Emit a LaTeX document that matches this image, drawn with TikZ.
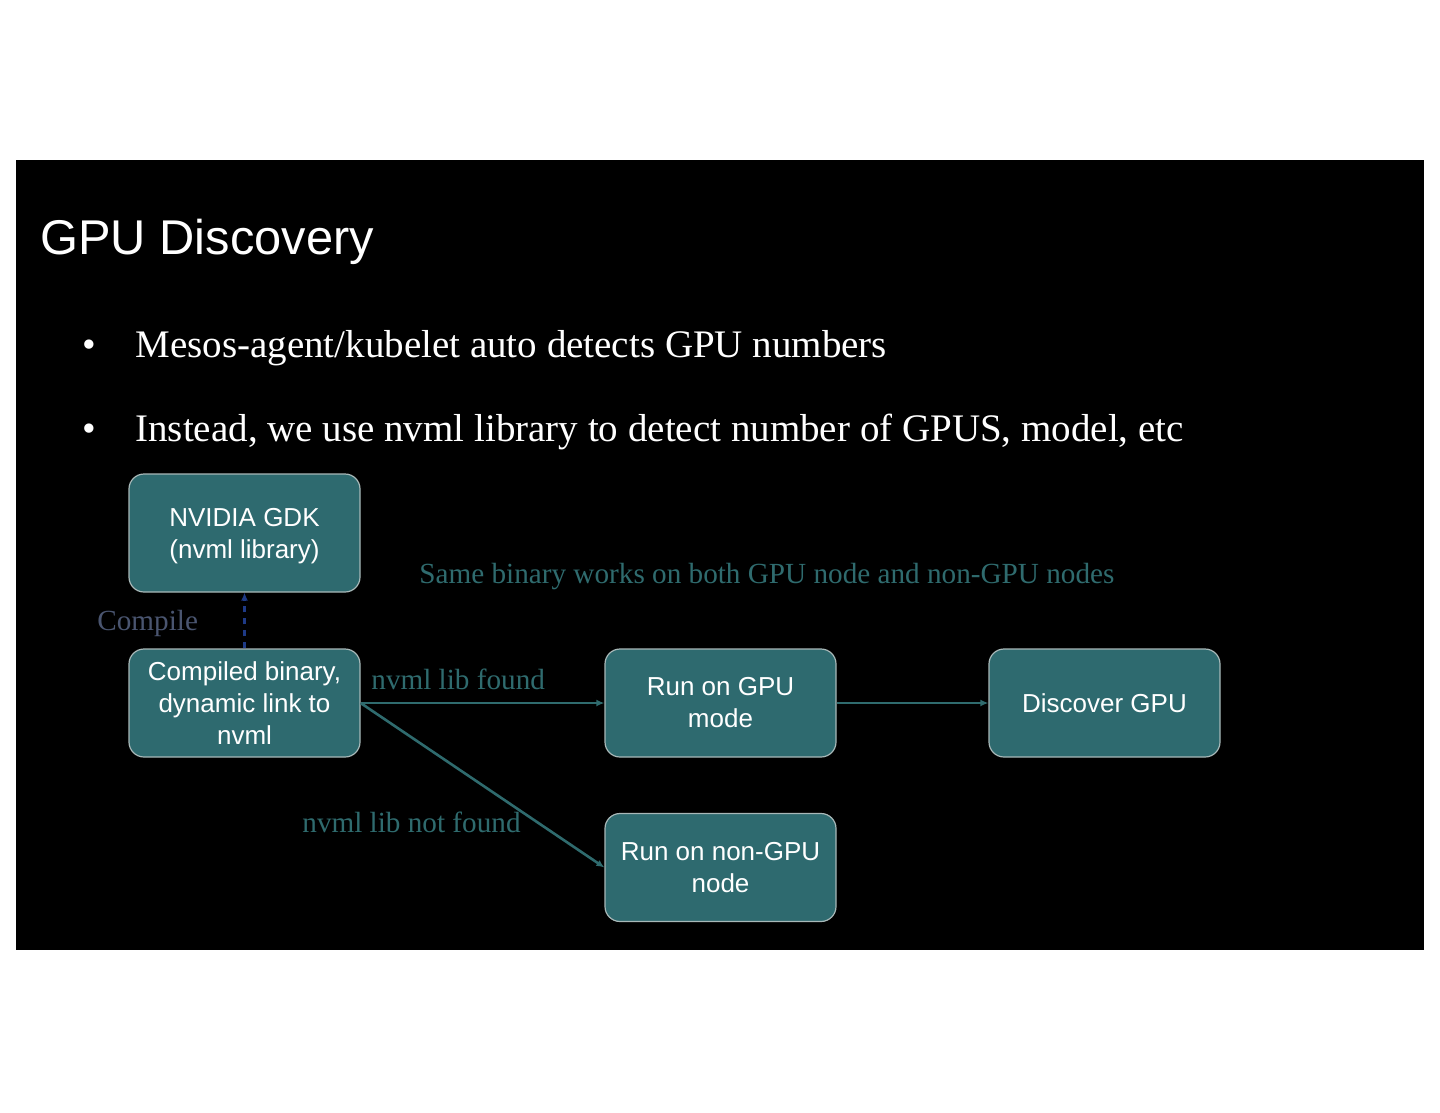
\documentclass[tikz,border=0pt]{standalone}
\usepackage{fontspec}
\setmainfont{Liberation Serif}
\newfontfamily\arialf{Liberation Sans}
\usetikzlibrary{arrows.meta}
\definecolor{boxfill}{HTML}{2E6A6F}
\definecolor{boxline}{HTML}{A8B8B8}
\definecolor{labteal}{HTML}{2F6B6E}
\definecolor{compgrey}{HTML}{4A5570}
\definecolor{dashblue}{HTML}{1E3A86}
\begin{document}
\begin{tikzpicture}[x=0.5pt,y=-0.5pt,
  flowbox/.style={draw=boxline, line width=0.6pt, fill=boxfill, rounded corners=7.5pt,
    minimum width=115.5pt, minimum height=54pt, text=white, align=center,
    font=\arialf\fontsize{13}{16}\selectfont, inner sep=2pt},
  lab/.style={text=labteal, font=\fontsize{14.6}{17}\selectfont, inner sep=0pt},
  conn/.style={draw=labteal, line width=1.3pt, -{Latex[length=4pt,width=3.5pt]}},
  bullettext/.style={text=white, font=\fontsize{19.5}{23}\selectfont, anchor=base west, inner sep=0pt}
]
\useasboundingbox (0,0) rectangle (1440,1113);
\fill[white] (0,0) rectangle (1440,1113);
\fill[black] (16,160) rectangle (1424,950);
\node[text=white, font=\arialf\fontsize{24.4}{28}\selectfont, anchor=base west, inner sep=0pt] (title) at (40,254) {GPU Discovery};
\node[bullettext] (b1d) at (82,357) {•};
\node[bullettext] (b1) at (135,357) {Mesos-agent/kubelet auto detects GPU numbers};
\node[bullettext] (b2d) at (82,441) {•};
\node[bullettext] (b2) at (135,441) {Instead, we use nvml library to detect number of GPUS, model, etc};

\node[flowbox, minimum height=59pt] (gdk) at (244.5,533) {\rule{0pt}{12.6pt}NVIDIA GDK\\(nvml library)};
\node[flowbox] (bin) at (244.5,703) {Compiled binary,\\dynamic link to\\nvml};
\node[flowbox] (gpu) at (720.5,703) {Run on GPU\\mode};
\node[flowbox] (disc) at (1104.5,703) {Discover GPU};
\node[flowbox] (nongpu) at (720.5,867.5) {Run on non-GPU\\node};

\draw[draw=dashblue, line width=1.2pt, dashed, -{Latex[length=4pt,width=3.5pt]}] (bin.north) -- (gdk.south);
\draw[conn] (bin.east) -- (gpu.west);
\draw[conn] (gpu.east) -- (disc.west);
\draw[conn] (bin.east) -- (nongpu.west);

\node[lab, anchor=west] (lfound) at (371,679) {nvml lib found};
\node[lab, anchor=west] (lnot) at (302,822) {nvml lib not found};
\node[lab, text=compgrey, anchor=west] (lcomp) at (97,623) {Compile};
\node[lab, anchor=west] (lsame) at (419,577) {Same binary works on both GPU node and non-GPU nodes};
\end{tikzpicture}
\end{document}
